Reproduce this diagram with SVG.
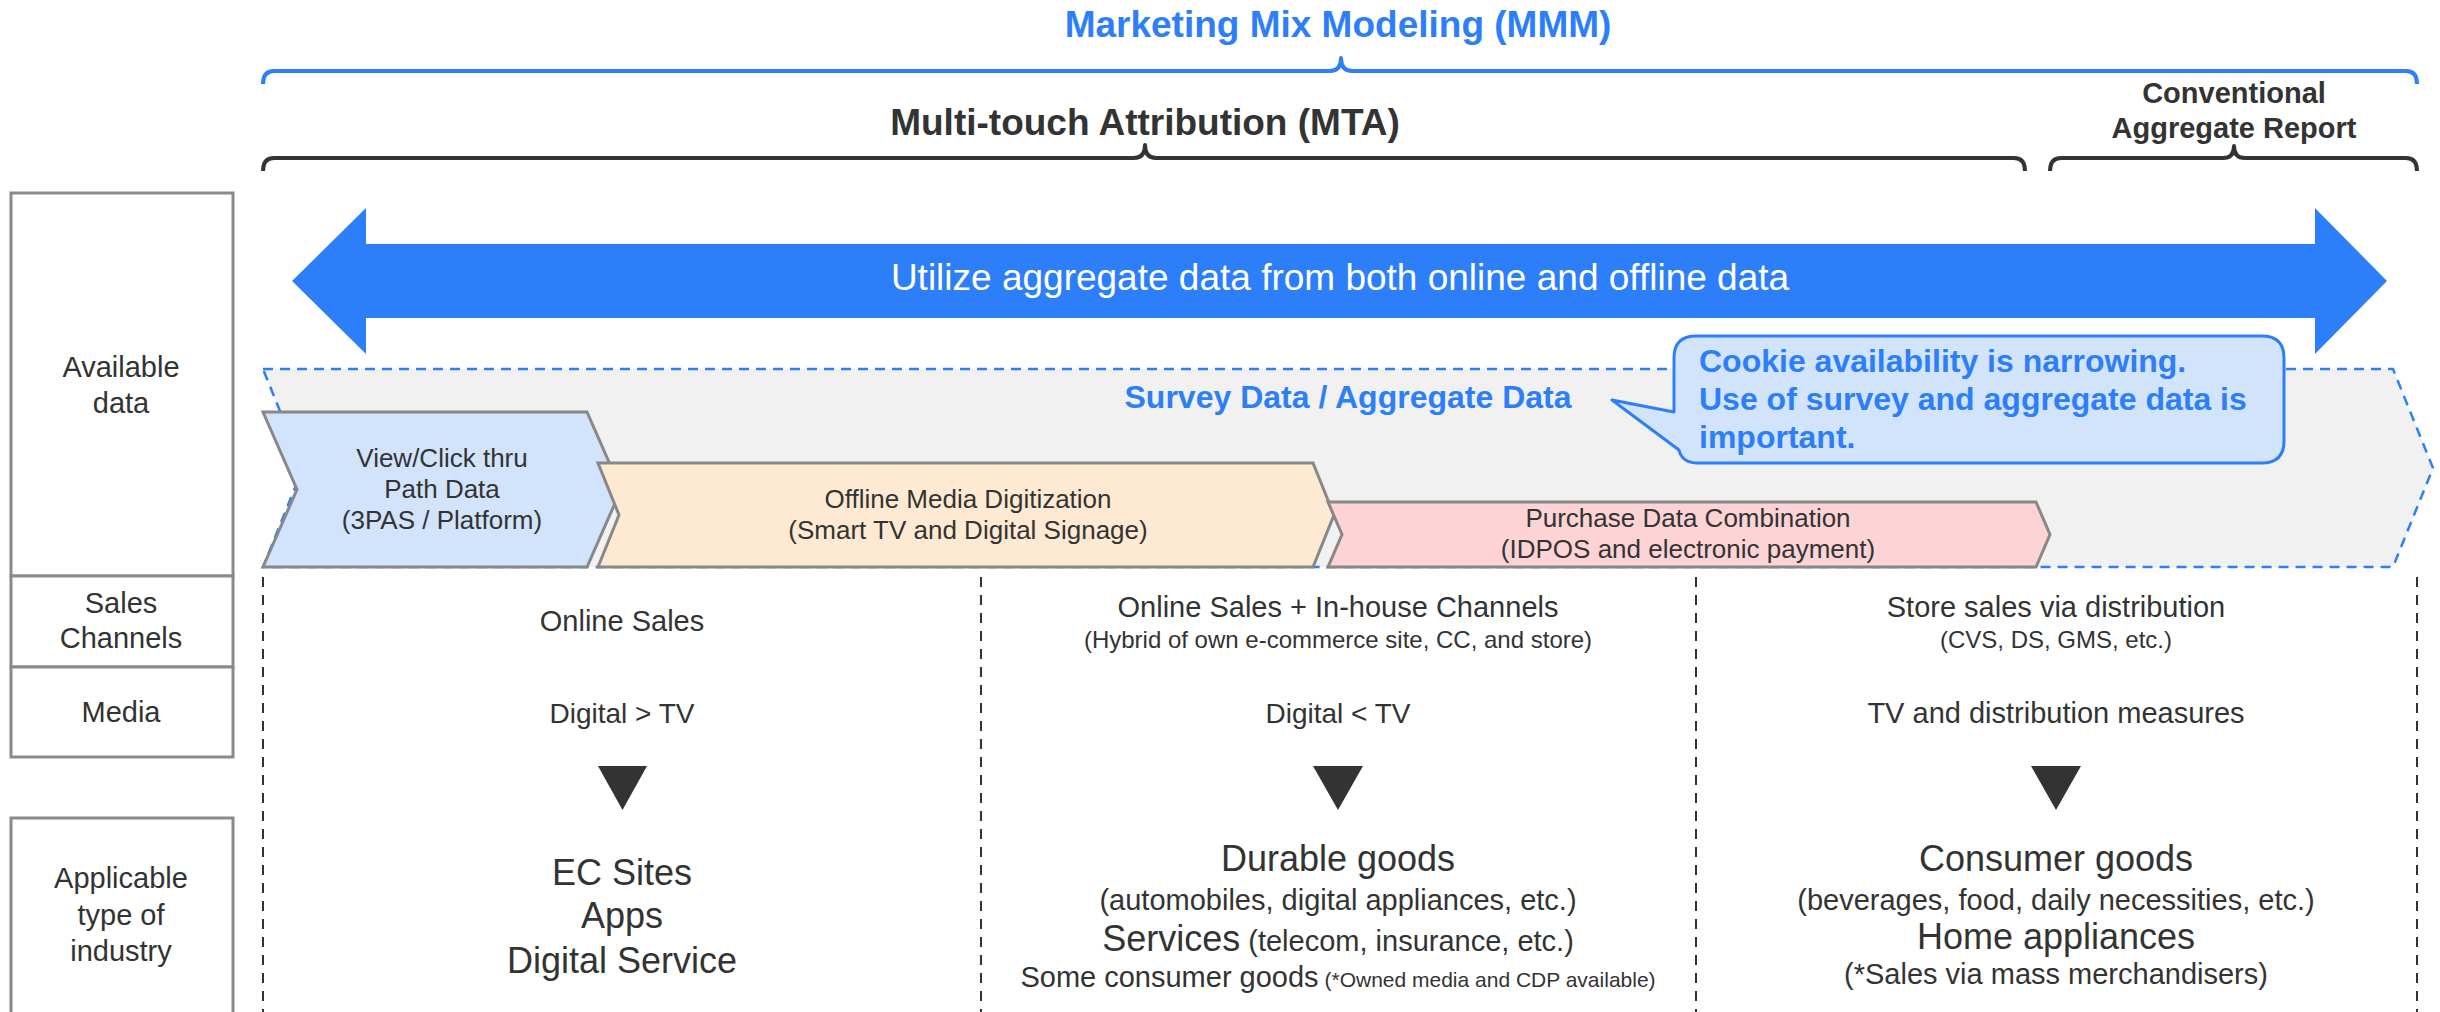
<svg xmlns="http://www.w3.org/2000/svg" width="2440" height="1012" viewBox="0 0 2440 1012">
  <style>
    text { font-family: "Liberation Sans", Arial, sans-serif; fill: #333333; }
    .b { font-weight: bold; }
    .c { text-anchor: middle; }
    .blue { fill: #2d7ff9; }
    .white { fill: #ffffff; }
    .label { fill: #ffffff; stroke: #8a8a8a; stroke-width: 3; }
    .brace { fill: none; stroke-width: 4; stroke-linejoin: round; }
    .chev { stroke: #888888; stroke-width: 3; stroke-linejoin: miter; }
    .divider { stroke: #333333; stroke-width: 2; stroke-dasharray: 10 8; }
    .tri { fill: #333333; }
  </style>

  <!-- scope braces -->
  <g id="mmm">
    <path class="brace" stroke="#2d7ff9" d="M263,84 Q263,71 274,71 H1330 Q1341,71 1341,58 Q1341,71 1352,71 H2406 Q2417,71 2417,84"/>
    <text class="b c blue" x="1338" y="37" font-size="37">Marketing Mix Modeling (MMM)</text>
  </g>
  <g id="mta">
    <path class="brace" stroke="#333333" d="M263,171 Q263,158 274,158 H1134 Q1145,158 1145,145 Q1145,158 1156,158 H2014 Q2025,158 2025,171"/>
    <text class="b c" x="1145" y="135" font-size="37">Multi-touch Attribution (MTA)</text>
  </g>
  <g id="conventional">
    <path class="brace" stroke="#333333" d="M2050,171 Q2050,158 2061,158 H2223 Q2234,158 2234,146 Q2234,158 2245,158 H2406 Q2417,158 2417,171"/>
    <text class="b c" x="2234" y="103" font-size="29">Conventional</text>
    <text class="b c" x="2234" y="138" font-size="29">Aggregate Report</text>
  </g>

  <!-- row labels -->
  <g id="row-available">
    <rect class="label" x="11" y="193" width="222" height="383"/>
    <text class="c" x="121" y="377" font-size="29">Available</text>
    <text class="c" x="121" y="413" font-size="29">data</text>
  </g>
  <g id="row-sales">
    <rect class="label" x="11" y="576" width="222" height="91"/>
    <text class="c" x="121" y="613" font-size="29">Sales</text>
    <text class="c" x="121" y="648" font-size="29">Channels</text>
  </g>
  <g id="row-media">
    <rect class="label" x="11" y="667" width="222" height="90"/>
    <text class="c" x="121" y="722" font-size="29">Media</text>
  </g>
  <g id="row-industry">
    <rect class="label" x="11" y="818" width="222" height="220"/>
    <text class="c" x="121" y="888" font-size="29">Applicable</text>
    <text class="c" x="121" y="925" font-size="29">type of</text>
    <text class="c" x="121" y="961" font-size="29">industry</text>
  </g>

  <!-- double-headed arrow -->
  <g id="utilize">
    <polygon fill="#2d7ff9" points="292,281 366,208 366,244 2315,244 2315,208 2387,281 2315,354 2315,318 366,318 366,354"/>
    <text class="c white" x="1340" y="290" font-size="37">Utilize aggregate data from both online and offline data</text>
  </g>

  <!-- survey / aggregate band -->
  <g id="survey">
    <polygon fill="#f1f1f1" stroke="#2d7ff9" stroke-width="2.5" stroke-dasharray="10 7" points="263,369 2393,369 2433,468 2393,567 263,567 303,468"/>
    <text class="b c blue" x="1348" y="408" font-size="32">Survey Data / Aggregate Data</text>
  </g>

  <!-- data source chevrons -->
  <g id="path-data">
    <polygon class="chev" fill="#d2e3fc" points="263,412 587,412 621,489.5 587,567 263,567 297,489.5"/>
    <text class="c" x="442" y="467" font-size="26">View/Click thru</text>
    <text class="c" x="442" y="498" font-size="26">Path Data</text>
    <text class="c" x="442" y="529" font-size="26">(3PAS / Platform)</text>
  </g>
  <g id="offline-media">
    <polygon class="chev" fill="#feead2" points="598,463 1313,463 1334,515 1313,567 598,567 619,515"/>
    <text class="c" x="968" y="508" font-size="26">Offline Media Digitization</text>
    <text class="c" x="968" y="539" font-size="26">(Smart TV and Digital Signage)</text>
  </g>
  <g id="purchase-data">
    <polygon class="chev" fill="#fdd3d5" points="1328,502 2036,502 2050,534.5 2036,567 1328,567 1342,534.5"/>
    <text class="c" x="1688" y="527" font-size="26">Purchase Data Combination</text>
    <text class="c" x="1688" y="558" font-size="26">(IDPOS and electronic payment)</text>
  </g>

  <!-- callout -->
  <g id="cookie-note">
    <path fill="#d2e3fc" stroke="#2d7ff9" stroke-width="3" stroke-linejoin="round" d="M1696,336 H2262 Q2284,336 2284,358 V441 Q2284,463 2262,463 H1698 Q1682,463 1679,450 L1612,400 L1674,412 V358 Q1674,336 1696,336 Z"/>
    <text class="b blue" x="1699" y="372" font-size="32">Cookie availability is narrowing.</text>
    <text class="b blue" x="1699" y="410" font-size="32">Use of survey and aggregate data is</text>
    <text class="b blue" x="1699" y="448" font-size="32">important.</text>
  </g>

  <!-- column dividers -->
  <g id="dividers">
    <line class="divider" x1="263" y1="577" x2="263" y2="1012"/>
    <line class="divider" x1="981" y1="577" x2="981" y2="1012"/>
    <line class="divider" x1="1696" y1="577" x2="1696" y2="1012"/>
    <line class="divider" x1="2417" y1="577" x2="2417" y2="1012"/>
  </g>

  <!-- column 1 -->
  <g id="col-online">
    <text class="c" x="622" y="631" font-size="29">Online Sales</text>
    <text class="c" x="622" y="723" font-size="28">Digital &gt; TV</text>
    <polygon class="tri" points="598,766 647,766 622.5,810"/>
    <text class="c" x="622" y="885" font-size="36">EC Sites</text>
    <text class="c" x="622" y="928" font-size="36">Apps</text>
    <text class="c" x="622" y="973" font-size="36">Digital Service</text>
  </g>

  <!-- column 2 -->
  <g id="col-hybrid">
    <text class="c" x="1338" y="617" font-size="29">Online Sales + In-house Channels</text>
    <text class="c" x="1338" y="648" font-size="24">(Hybrid of own e-commerce site, CC, and store)</text>
    <text class="c" x="1338" y="723" font-size="28">Digital &lt; TV</text>
    <polygon class="tri" points="1313,766 1363,766 1338,810"/>
    <text class="c" x="1338" y="871" font-size="36">Durable goods</text>
    <text class="c" x="1338" y="910" font-size="29">(automobiles, digital appliances, etc.)</text>
    <text class="c" x="1338" y="951"><tspan font-size="36">Services</tspan><tspan font-size="29"> (telecom, insurance, etc.)</tspan></text>
    <text class="c" x="1338" y="987"><tspan font-size="29">Some consumer goods</tspan><tspan font-size="21"> (*Owned media and CDP available)</tspan></text>
  </g>

  <!-- column 3 -->
  <g id="col-store">
    <text class="c" x="2056" y="617" font-size="29">Store sales via distribution</text>
    <text class="c" x="2056" y="648" font-size="24">(CVS, DS, GMS, etc.)</text>
    <text class="c" x="2056" y="723" font-size="29">TV and distribution measures</text>
    <polygon class="tri" points="2031,766 2081,766 2056,810"/>
    <text class="c" x="2056" y="871" font-size="36">Consumer goods</text>
    <text class="c" x="2056" y="910" font-size="29">(beverages, food, daily necessities, etc.)</text>
    <text class="c" x="2056" y="949" font-size="36">Home appliances</text>
    <text class="c" x="2056" y="984" font-size="29">(*Sales via mass merchandisers)</text>
  </g>
</svg>
